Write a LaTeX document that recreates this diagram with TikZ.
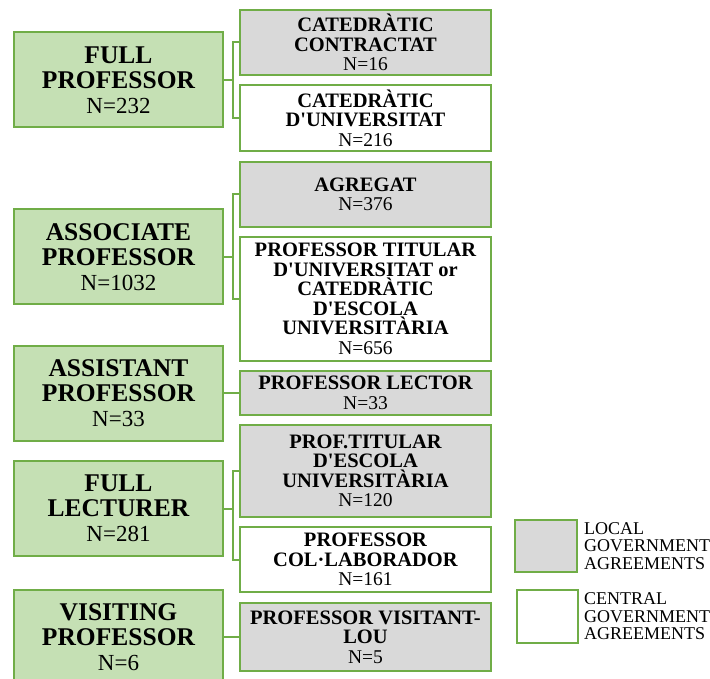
\documentclass[tikz,border=0pt]{standalone}
\usepackage{fontspec}
\setmainfont{Liberation Serif}
\usetikzlibrary{positioning}
\definecolor{boxgreen}{HTML}{70AD47}
\definecolor{rankfill}{HTML}{C5E0B4}
\definecolor{localfill}{HTML}{D9D9D9}
\newcommand{\rankn}[1]{{\fontsize{23}{25}\selectfont\mdseries #1}}
\newcommand{\postn}[1]{{\fontsize{19.5}{19.5}\selectfont\mdseries #1}}
\newcommand{\ap}{\textquotesingle{}}

\begin{document}
\begin{tikzpicture}[x=1pt,y=-1pt,
    rank/.style={draw=boxgreen, fill=rankfill, line width=2pt, minimum width=209pt,
        minimum height=95pt, align=center, inner sep=0pt,
        font=\fontsize{25.5}{25}\selectfont\bfseries},
    post/.style={draw=boxgreen, line width=2pt, minimum width=251pt, align=center,
        inner sep=0pt, font=\fontsize{20.5}{19.5}\selectfont\bfseries},
    local/.style={post, fill=localfill},
    central/.style={post, fill=white},
    link/.style={boxgreen, line width=2pt},
    keytext/.style={align=left, inner sep=0pt, font=\fontsize{18}{17.5}\selectfont}]
        \useasboundingbox (0,0) rectangle (710,679);

        % Ranks
        \node[rank] (fullprof) at (118.5,80) {FULL\\PROFESSOR\\\rankn{N=232}};
        \node[rank] (assocprof) at (118.5,257) {ASSOCIATE\\PROFESSOR\\\rankn{N=1032}};
        \node[rank] (assistprof) at (118.5,393) {ASSISTANT\\PROFESSOR\\\rankn{N=33}};
        \node[rank] (fulllect) at (118.5,508.5) {FULL\\LECTURER\\\rankn{N=281}};
        \node[rank] (visitprof) at (118.5,637) {VISITING\\PROFESSOR\\\rankn{N=6}};

        % Posts
        \node[local, minimum height=65pt] (catcontr) at (365.5,42.5)
            {CATEDRÀTIC\\CONTRACTAT\\\postn{N=16}};
        \node[central, minimum height=66pt] (catuniv) at (365.5,118)
            {CATEDRÀTIC\\D\ap UNIVERSITAT\\\postn{N=216}};
        \node[local, minimum height=65pt] (agregat) at (365.5,194.5)
            {AGREGAT\\\postn{N=376}};
        \node[central, minimum height=124pt] (titular) at (365.5,299)
            {PROFESSOR TITULAR\\D\ap UNIVERSITAT or\\CATEDRÀTIC\\D\ap ESCOLA\\UNIVERSITÀRIA\\\postn{N=656}};
        \node[local, minimum height=44pt] (lector) at (365.5,393)
            {PROFESSOR LECTOR\\\postn{N=33}};
        \node[local, minimum height=92pt] (titesc) at (365.5,471)
            {PROF.TITULAR\\D\ap ESCOLA\\UNIVERSITÀRIA\\\postn{N=120}};
        \node[central, minimum height=65pt] (collab) at (365.5,559.5)
            {PROFESSOR\\COL·LABORADOR\\\postn{N=161}};
        \node[local, minimum height=68pt] (visitant) at (365.5,637)
            {PROFESSOR VISITANT-\\LOU\\\postn{N=5}};

        % Connectors
        \draw[link] (fullprof.east) -- ++(9,0) |- (catcontr.west);
        \draw[link] (fullprof.east) -- ++(9,0) |- (catuniv.west);
        \draw[link] (assocprof.east) -- ++(9,0) |- (agregat.west);
        \draw[link] (assocprof.east) -- ++(9,0) |- (titular.west);
        \draw[link] (assistprof.east) -- (lector.west);
        \draw[link] (fulllect.east) -- ++(9,0) |- (titesc.west);
        \draw[link] (fulllect.east) -- ++(9,0) |- (collab.west);
        \draw[link] (visitprof.east) -- (visitant.west);

        % Legend
        \node[local, minimum width=62pt, minimum height=52pt] (localkey) at (546,546) {};
        \node[central, minimum width=61pt, minimum height=53pt] (centralkey) at (547.5,616.5) {};
        \node[keytext, right=6pt of localkey] (localtext) {LOCAL\\GOVERNMENT\\AGREEMENTS};
        \node[keytext, right=5pt of centralkey] (centraltext) {CENTRAL\\GOVERNMENT\\AGREEMENTS};

    \end{tikzpicture}
\end{document}
